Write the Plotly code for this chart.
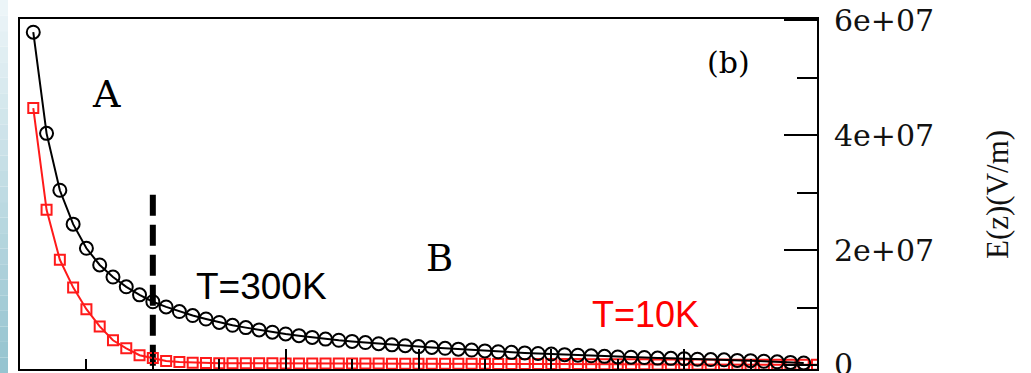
import plotly.graph_objects as go

# Position along the sample (arbitrary units, step 0.1)
z_black = [round(0.1 * i, 1) for i in range(1, 60)]
z_red = [round(0.1 * i, 1) for i in range(1, 61)]

# Electric field E(z) in units of 1e7 V/m
e_300k = [5.79, 4.03, 3.04, 2.45, 2.03, 1.74, 1.53, 1.36, 1.22, 1.10,
          1.01, 0.93, 0.86, 0.80, 0.74, 0.69, 0.65, 0.61, 0.57, 0.54,
          0.51, 0.48, 0.45, 0.43, 0.41, 0.39, 0.37, 0.35, 0.335, 0.32,
          0.305, 0.29, 0.275, 0.26, 0.245, 0.23, 0.22, 0.21, 0.20, 0.19,
          0.18, 0.17, 0.16, 0.15, 0.14, 0.135, 0.13, 0.12, 0.115, 0.11,
          0.10, 0.095, 0.09, 0.08, 0.075, 0.065, 0.055, 0.045, 0.035]
e_10k = [4.47, 2.70, 1.83, 1.35, 0.97, 0.67, 0.43, 0.29, 0.17, 0.12,
         0.07, 0.05, 0.04, 0.035, 0.03, 0.03, 0.03, 0.028, 0.028, 0.027,
         0.027, 0.026, 0.026, 0.025, 0.025, 0.024, 0.024, 0.023, 0.023, 0.022,
         0.022, 0.021, 0.021, 0.02, 0.02, 0.019, 0.018, 0.018, 0.017, 0.016,
         0.015, 0.015, 0.014, 0.013, 0.012, 0.012, 0.011, 0.01, 0.01, 0.009,
         0.008, 0.008, 0.007, 0.006, 0.006, 0.005, 0.004, 0.004, 0.003, 0.002]

# Boundary between regions A and B
boundary_z = 1.0
boundary_top = 2.96e7

y_tickvals = [0, 2e7, 4e7, 6e7]
y_ticktext = ["0", "2e+07", "4e+07", "6e+07"]
y_minor = [1e7, 3e7, 5e7]

W, H = 1031, 373
ML, MR, MT, MB = 20, 214, 19, 4
plot_w = W - ML - MR
plot_h = H - MT - MB

fig = go.Figure()

fig.add_trace(go.Scatter(
    x=[boundary_z, boundary_z], y=[boundary_top, -0.07e7],
    mode="lines", line=dict(color="black", width=6, dash="21px,9px"),
    showlegend=False, hoverinfo="skip"))

fig.add_trace(go.Scatter(
    x=z_red, y=[v * 1e7 for v in e_10k], mode="lines+markers",
    line=dict(color="#ff1a1a", width=2),
    marker=dict(symbol="square-open", size=10, color="#ff1a1a",
                line=dict(width=2, color="#ff1a1a")),
    showlegend=False))

fig.add_trace(go.Scatter(
    x=z_black, y=[v * 1e7 for v in e_300k], mode="lines+markers",
    line=dict(color="black", width=2),
    marker=dict(symbol="circle-open", size=13, color="black",
                line=dict(width=2, color="black")),
    showlegend=False))

# Light blue strip along the left edge of the slide
shapes = []
n = 24
for i in range(n):
    t = i / (n - 1)
    r = int(236 - t * (236 - 150))
    g = int(245 - t * (245 - 196))
    b = int(248 - t * (248 - 208))
    shapes.append(dict(
        type="rect", xref="paper", yref="paper", layer="below",
        x0=-ML / plot_w, x1=-(ML - 8) / plot_w,
        y0=1 + MT / plot_h - (i + 1) * (H / plot_h) / n,
        y1=1 + MT / plot_h - i * (H / plot_h) / n,
        line=dict(width=0), fillcolor=f"rgb({r},{g},{b})"))

serif = "Liberation Serif"
wide_serif = "DejaVu Serif"
sans = "Liberation Sans"
annotations = [
    dict(x=0.65, y=4.72e7, text="A", font=dict(family=wide_serif, size=38, color="black")),
    dict(x=3.16, y=1.86e7, text="B", font=dict(family=wide_serif, size=37, color="black")),
    dict(x=5.33, y=5.27e7, text="(b)", font=dict(family=wide_serif, size=30, color="black")),
    dict(x=1.815, y=1.36e7, text="T=300K", font=dict(family=sans, size=37, color="black")),
    dict(x=4.71, y=0.87e7, text="T=10K", font=dict(family=sans, size=36, color="#ff0000")),
    dict(x=(997 - ML) / plot_w, y=(H - MB - 195) / plot_h, xref="paper", yref="paper",
         text="E(z)(V/m)", textangle=-90,
         font=dict(family=serif, size=31, color="#111111")),
]
for a in annotations:
    a.setdefault("xref", "x")
    a.setdefault("yref", "y")
    a.update(showarrow=False, xanchor="center", yanchor="middle")

fig.update_layout(
    width=W, height=H,
    margin=dict(l=ML, r=MR, t=MT, b=MB, pad=0, autoexpand=False),
    paper_bgcolor="white", plot_bgcolor="white",
    shapes=shapes, annotations=annotations,
    xaxis=dict(range=[0, 6], showgrid=False, zeroline=False, automargin=False,
               showline=True, linecolor="black", linewidth=2, mirror=True,
               ticks="inside", ticklen=20, tickwidth=2, tickcolor="black",
               dtick=1, tick0=0, showticklabels=False,
               minor=dict(ticks="inside", ticklen=10, tickwidth=2,
                          tickcolor="black", dtick=0.5, tick0=0)),
    yaxis=dict(range=[-0.07e7, 6.02e7], side="right", showgrid=False, zeroline=False,
               automargin=False,
               showline=True, linecolor="black", linewidth=2, mirror=True,
               ticks="inside", ticklen=33, tickwidth=2, tickcolor="black",
               tickvals=y_tickvals, ticktext=y_ticktext,
               tickfont=dict(family=wide_serif, size=30, color="#111111"),
               ticklabelstandoff=9, ticklabeloverflow="allow",
               minor=dict(ticks="inside", ticklen=20, tickwidth=2,
                          tickcolor="black", tickvals=y_minor)),
)

fig.write_html("out.html")
